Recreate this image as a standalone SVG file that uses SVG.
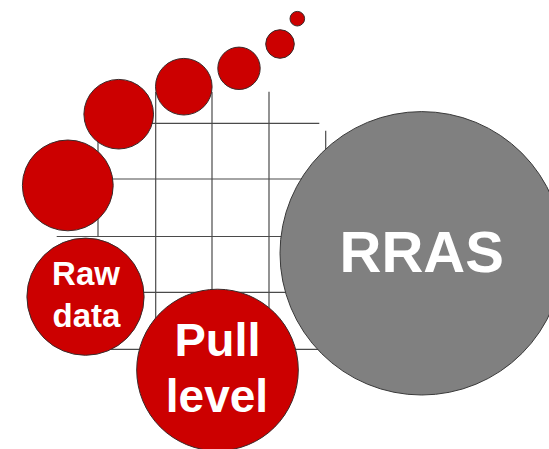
<svg xmlns="http://www.w3.org/2000/svg" width="549" height="449" viewBox="0 0 549 449">
<style>
.grid line{stroke:#4a4a4a;stroke-width:1.2}
.red{fill:#cc0000;stroke:#3a2a2a;stroke-width:1}
.gray{fill:#808080;stroke:#3a3a3a;stroke-width:1}
text{font-family:"Liberation Sans",Arial,sans-serif;font-weight:bold;fill:#ffffff;text-anchor:middle}
</style>
<rect width="549" height="449" fill="#ffffff"/>
<g id="connectors" class="grid">
<line x1="98" y1="120" x2="98" y2="237"/>
<line x1="155.7" y1="92" x2="155.7" y2="349.3"/>
<line x1="212" y1="92" x2="212" y2="349.3"/>
<line x1="269" y1="91.7" x2="269" y2="349.3"/>
<line x1="325.7" y1="130.7" x2="325.7" y2="349.3"/>
<line x1="100" y1="123.3" x2="319.3" y2="123.3"/>
<line x1="90" y1="179" x2="340" y2="179"/>
<line x1="56.7" y1="236.5" x2="340" y2="236.5"/>
<line x1="100" y1="292.3" x2="340" y2="292.3"/>
<line x1="105" y1="349.3" x2="340" y2="349.3"/>
</g>
<g id="rras"><circle class="gray" cx="421.7" cy="253.3" r="141.7"/><text x="421.7" y="271.5" font-size="58">RRAS</text></g>
<g id="dot1"><circle class="red" cx="297.3" cy="18.7" r="7.3"/></g>
<g id="dot2"><circle class="red" cx="280" cy="44" r="14.3"/></g>
<g id="dot3"><circle class="red" cx="239" cy="68.3" r="21.2"/></g>
<g id="dot4"><circle class="red" cx="183.8" cy="86.7" r="28.3"/></g>
<g id="dot5"><circle class="red" cx="118.7" cy="114.2" r="34.8"/></g>
<g id="dot6"><circle class="red" cx="67.8" cy="185.4" r="45.4"/></g>
<g id="raw-data"><circle class="red" cx="85.5" cy="296.7" r="58.6"/><text x="86" y="285" font-size="33">Raw</text><text x="86.5" y="326.7" font-size="33">data</text></g>
<g id="pull-level"><circle class="red" cx="217.5" cy="370" r="80.8"/><text x="217.5" y="355.7" font-size="47">Pull</text><text x="217" y="412.3" font-size="46">level</text></g>
</svg>
